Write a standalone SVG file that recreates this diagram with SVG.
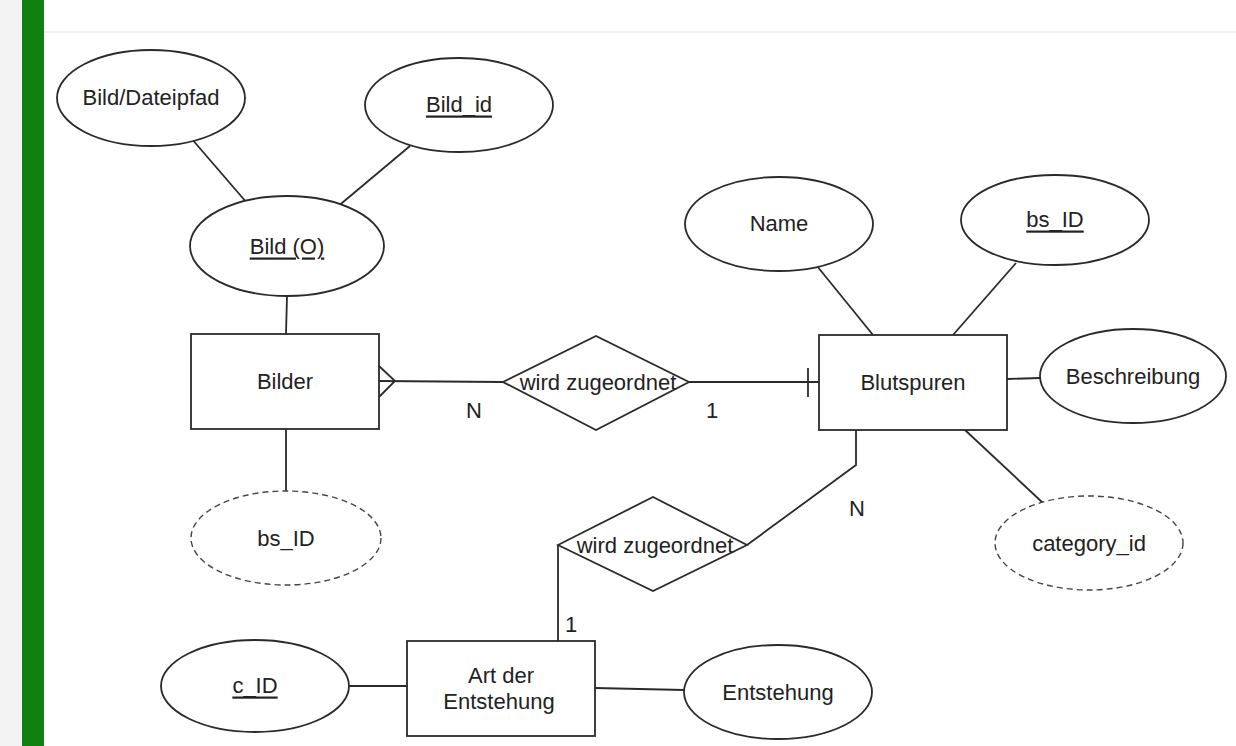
<svg xmlns="http://www.w3.org/2000/svg" width="1236" height="746" viewBox="0 0 1236 746">
<style>
.s{fill:#fff;stroke:#2a2a2a;stroke-width:1.8}
.d{fill:#fff;stroke:#444;stroke-width:1.4;stroke-dasharray:6 4}
.c{fill:none;stroke:#2a2a2a;stroke-width:1.8}
text{font-family:"Liberation Sans",Arial,sans-serif;font-size:22px;fill:#222;text-anchor:middle;dominant-baseline:central}
.u{text-decoration:underline}
</style>
<rect x="0" y="0" width="1236" height="746" fill="#fff"/>
<rect x="0" y="0" width="22" height="746" fill="#f3f3f3"/>
<rect x="22" y="0" width="22" height="746" fill="#108010"/>
<rect x="44" y="31" width="1192" height="2" fill="#f0f0f0"/>
<g id="connectors">
<line class="c" x1="191" y1="138" x2="247" y2="203"/>
<line class="c" x1="410" y1="146" x2="336" y2="208"/>
<line class="c" x1="287" y1="296" x2="286" y2="334"/>
<line class="c" x1="286" y1="429" x2="286" y2="491"/>
<line class="c" x1="379" y1="381" x2="503" y2="382"/>
<polyline class="c" points="379,366 395,381 379,397"/>
<line class="c" x1="689" y1="382" x2="819" y2="382"/>
<line class="c" x1="808" y1="368" x2="808" y2="397"/>
<line class="c" x1="817" y1="266" x2="873" y2="335"/>
<line class="c" x1="1016" y1="263" x2="953" y2="335"/>
<line class="c" x1="1007" y1="379" x2="1040" y2="378"/>
<line class="c" x1="965" y1="430" x2="1043" y2="503"/>
<polyline class="c" points="856,430 856,465 747,545"/>
<line class="c" x1="558" y1="545" x2="558" y2="641"/>
<line class="c" x1="349" y1="686" x2="407" y2="686"/>
<line class="c" x1="595" y1="688" x2="684" y2="690"/>
<text x="474" y="410">N</text>
<text x="712" y="410">1</text>
<text x="857" y="508">N</text>
<text x="571" y="624">1</text>
</g>
<g id="bild_dateipfad"><ellipse class="s" cx="151" cy="98" rx="94" ry="48"/><text x="151" y="97">Bild/Dateipfad</text></g>
<g id="bild_id"><ellipse class="s" cx="459" cy="105" rx="94" ry="47"/><text class="u" x="459" y="104">Bild_id</text></g>
<g id="bild_o"><ellipse class="s" cx="287" cy="246" rx="97" ry="50"/><text class="u" x="287" y="246">Bild (O)</text></g>
<g id="bilder"><rect class="s" x="191" y="334" width="188" height="95"/><text x="285" y="381">Bilder</text></g>
<g id="bs_id_left"><ellipse class="d" cx="286" cy="538" rx="95" ry="47"/><text x="286" y="538">bs_ID</text></g>
<g id="rel_top"><polygon class="s" points="503,382 596,336 689,382 596,430"/><text x="598" y="382">wird zugeordnet</text></g>
<g id="name"><ellipse class="s" cx="779" cy="224" rx="94" ry="47"/><text x="779" y="223">Name</text></g>
<g id="bs_id"><ellipse class="s" cx="1055" cy="220" rx="94" ry="45"/><text class="u" x="1055" y="219">bs_ID</text></g>
<g id="blutspuren"><rect class="s" x="819" y="335" width="188" height="95"/><text x="913" y="382">Blutspuren</text></g>
<g id="beschreibung"><ellipse class="s" cx="1133" cy="376" rx="93" ry="47"/><text x="1133" y="376">Beschreibung</text></g>
<g id="category_id"><ellipse class="d" cx="1089" cy="543" rx="94" ry="47"/><text x="1089" y="543">category_id</text></g>
<g id="rel_bottom"><polygon class="s" points="558,545 653,497 747,545 653,591"/><text x="655" y="545">wird zugeordnet</text></g>
<g id="art_der_entstehung"><rect class="s" x="407" y="641" width="188" height="95"/><text x="501" y="675">Art der</text><text x="499" y="701">Entstehung</text></g>
<g id="c_id"><ellipse class="s" cx="255" cy="686" rx="94" ry="46"/><text class="u" x="255" y="685">c_ID</text></g>
<g id="entstehung"><ellipse class="s" cx="778" cy="692" rx="94" ry="47"/><text x="778" y="692">Entstehung</text></g>
</svg>
